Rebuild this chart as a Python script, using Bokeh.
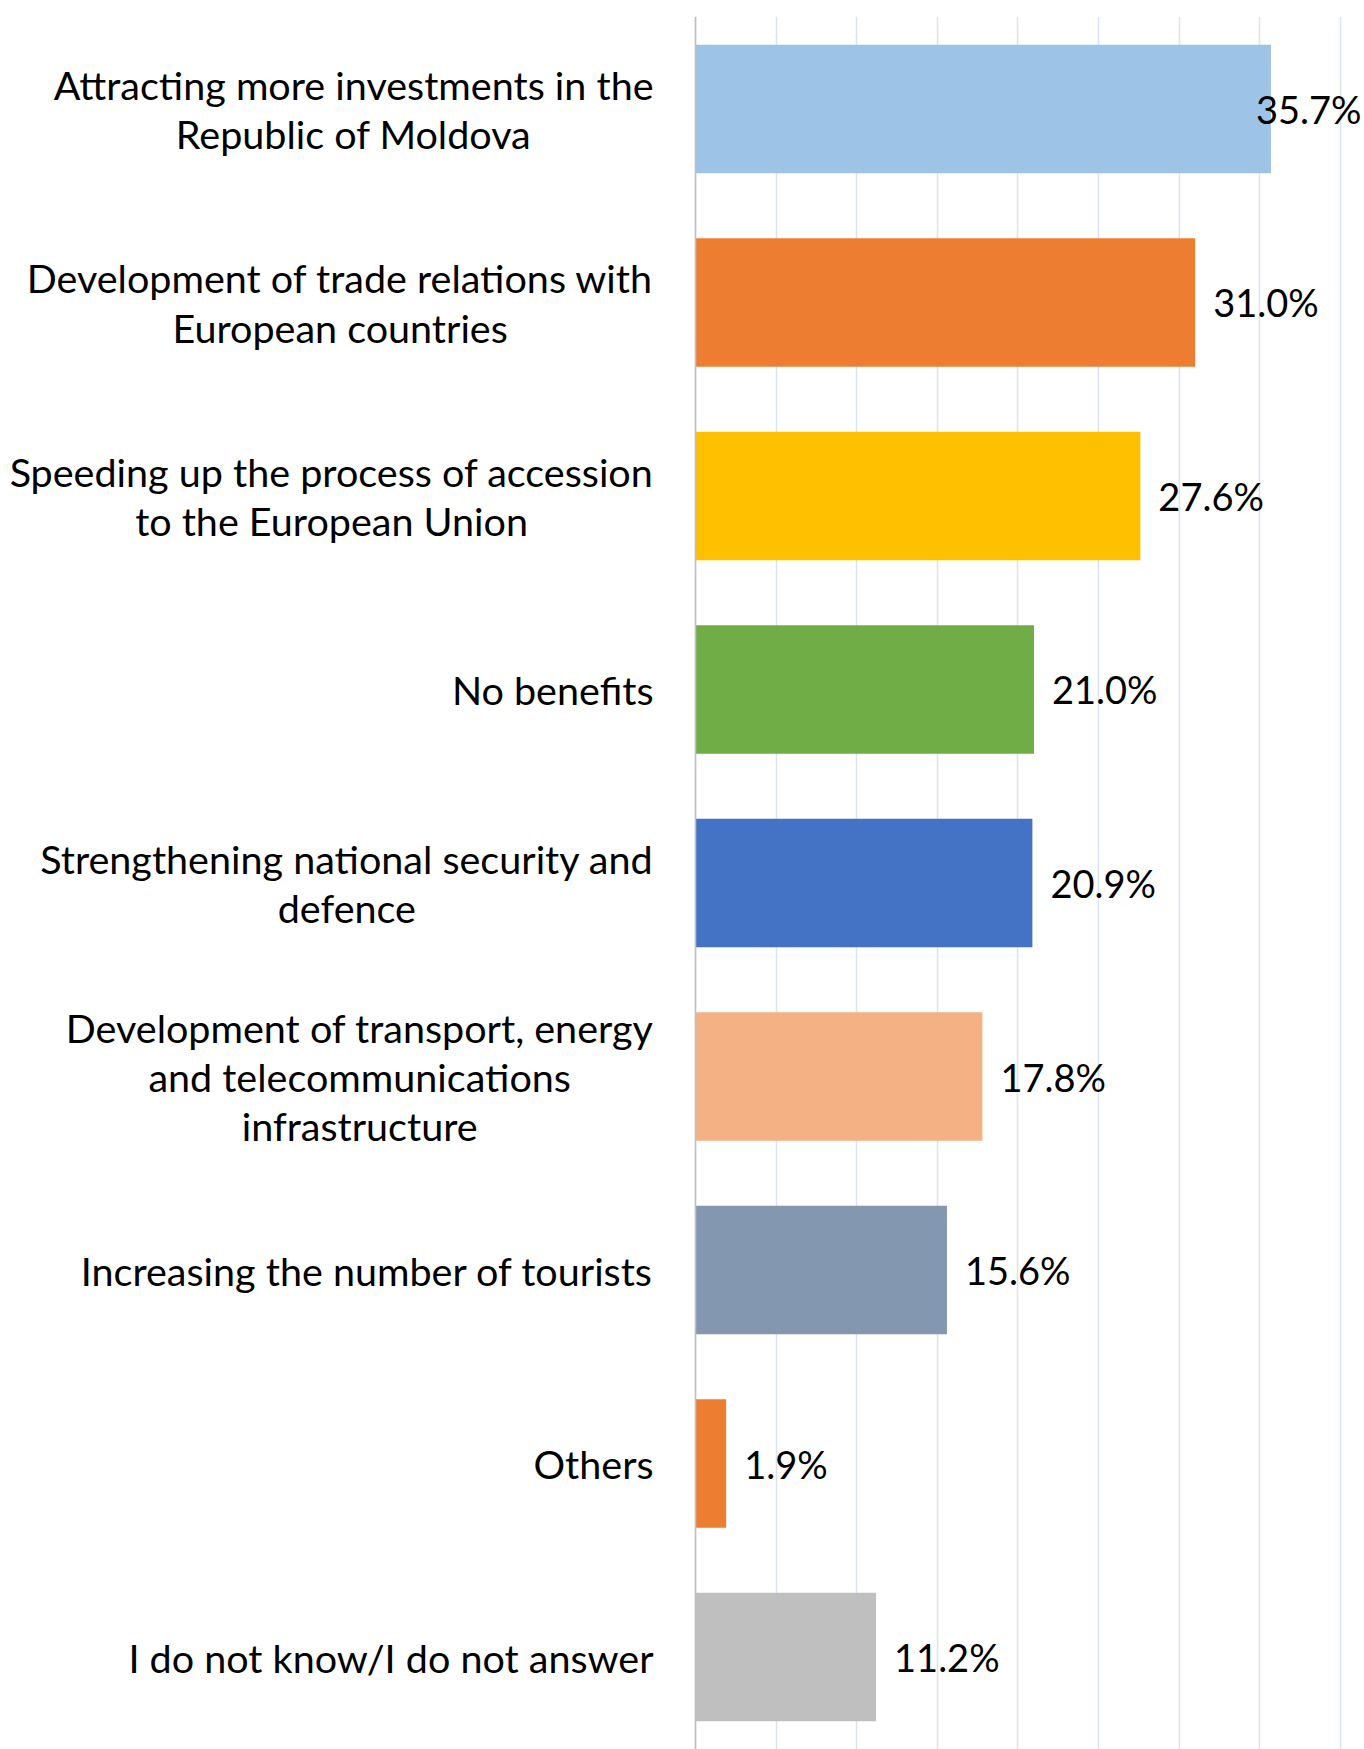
from bokeh.plotting import figure
from bokeh.models import ColumnDataSource, FactorRange, Range1d, FixedTicker, Span
from bokeh.core.properties import value
from bokeh.embed import file_html
from bokeh.resources import INLINE

categories = [
    "Attracting more investments in the\nRepublic of Moldova",
    "Development of trade relations with\nEuropean countries",
    "Speeding up the process of accession\nto the European Union",
    "No benefits",
    "Strengthening national security and\ndefence",
    "Development of transport, energy\nand telecommunications\ninfrastructure",
    "Increasing the number of tourists",
    "Others",
    "I do not know/I do not answer",
]
values = [35.7, 31.0, 27.6, 21.0, 20.9, 17.8, 15.6, 1.9, 11.2]
colors = ["#9DC3E6", "#ED7D31", "#FFC000", "#70AD47", "#4472C4",
          "#F4B183", "#8497B0", "#ED7D31", "#BFBFBF"]
grid_ticks = [0, 5, 10, 15, 20, 25, 30, 35, 40]

FONT = "Lato"
FIG_W, FIG_H = 1364, 1749
LEFT_PX = 693          # pixel position of the value axis (0 %)
PX_PER_UNIT = 16.07    # pixels per 1 %
X_START = -LEFT_PX / PX_PER_UNIT
X_END = (FIG_W - 4 - LEFT_PX) / PX_PER_UNIT

labels = ["%.1f%%" % v for v in values]
over = [v > 35 for v in values]
src = ColumnDataSource(dict(
    cat=categories, val=values, color=colors, label=labels,
    lx=[X_END if o else v for v, o in zip(values, over)],
    align=["right" if o else "left" for o in over],
    xoff=[-3 if o else 18 for o in over],
    zero=[0] * len(values),
))

p = figure(width=FIG_W, height=FIG_H, output_backend="svg", toolbar_location=None,
           y_range=FactorRange(factors=categories[::-1], range_padding=-0.0049),
           x_range=Range1d(X_START, X_END),
           min_border_left=0, min_border_top=16, min_border_bottom=0, min_border_right=0,
           x_axis_location=None, y_axis_location=None)
p.outline_line_color = None
p.background_fill_color = "white"
p.border_fill_color = "white"

p.xgrid.ticker = FixedTicker(ticks=grid_ticks)
p.xgrid.grid_line_color = "#DAE3F3"
p.xgrid.grid_line_width = 1.5
p.ygrid.grid_line_color = None

p.add_layout(Span(location=0, dimension="height", line_color="#BFBFBF", line_width=1.5))

p.hbar(y="cat", right="val", left=0, height=0.665, color="color", source=src, line_color=None)

# value labels
p.text(x="lx", y="cat", text="label", source=src, text_align="align", x_offset="xoff",
       text_baseline="middle", text_font=value(FONT), text_font_size="38px", text_color="#000000")

# category labels: block right-aligned next to the axis, lines centred
p.text(x="zero", y="cat", text="cat", source=src, x_offset=-42,
       anchor="center_right", text_align="center", text_baseline="middle",
       text_font=value(FONT), text_font_size="39.5px", text_color="#000000",
       text_line_height=1.05)

open("out.html", "w").write(file_html(p, INLINE))
